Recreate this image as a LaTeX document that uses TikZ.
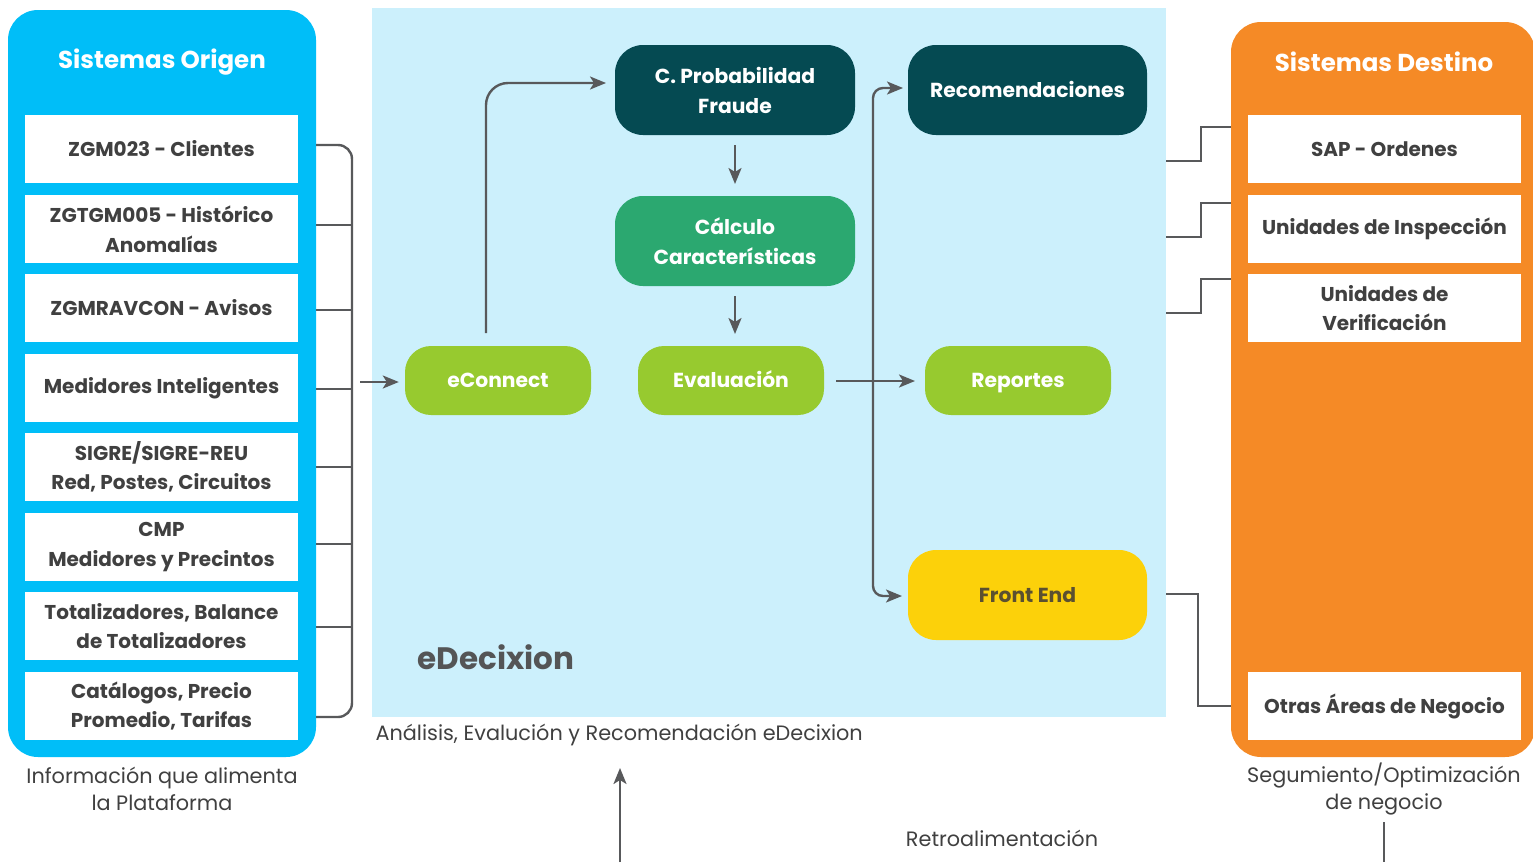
\documentclass[tikz,border=0pt]{standalone}
\usepackage{fontspec}
\setmainfont{Poppins}
\usetikzlibrary{arrows.meta}
\definecolor{cyanP}{HTML}{00BEF8}
\definecolor{orangeP}{HTML}{F58A26}
\definecolor{skyP}{HTML}{CCF0FC}
\definecolor{tealP}{HTML}{054A52}
\definecolor{greenP}{HTML}{2BA870}
\definecolor{limeP}{HTML}{97CA2F}
\definecolor{yellowP}{HTML}{FCD10A}
\definecolor{lineP}{HTML}{58595B}
\definecolor{textP}{HTML}{404040}
\definecolor{ftxtP}{HTML}{5B5030}
\tikzset{
  panel/.style={rounded corners=30pt, inner sep=0pt},
  wbox/.style={fill=white, minimum width=273pt, minimum height=68pt, inner sep=0pt,
     text=textP, font=\bfseries\fontsize{20}{29.5}\selectfont, align=center},
  title/.style={text=white, font=\bfseries\fontsize{24.5}{28}\selectfont},
  pnode/.style={rounded corners=28pt, minimum height=90pt, minimum width=240pt, inner sep=0pt,
     text=white, font=\bfseries\fontsize{20.3}{30}\selectfont, align=center},
  onel/.style={align=flush center, text height=14.5pt, text depth=0pt},
  snode/.style={rounded corners=26pt, minimum height=69pt, minimum width=186pt, inner sep=0pt,
     fill=limeP, text=white, font=\bfseries\fontsize{20.3}{30}\selectfont, onel},
  conn/.style={draw=lineP, line width=2.4pt},
  arr/.style={conn, -{Stealth[length=16pt,width=13pt,inset=4pt]}},
  captxt/.style={text=textP, font=\fontsize{20.8}{27}\selectfont, align=center},
}
\begin{document}
\begin{tikzpicture}[x=1pt,y=-1pt]
\useasboundingbox (0,0) rectangle (1533,862);
\fill[white] (0,0) rectangle (1533,862);

% center panel
\node[fill=skyP, minimum width=794pt, minimum height=709pt, inner sep=0pt] (centro) at (769,362.5) {};

% left panel
\node[panel, fill=cyanP, minimum width=308pt, minimum height=747pt] (origen) at (162,383.5) {};
\node[title] (torigen) at (162,62) {Sistemas Origen};
\node[wbox] (b1) at (161.5,149) {ZGM023 - Clientes};
\node[wbox] (b2) at (161.5,229) {ZGTGM005 - Histórico\\Anomalías};
\node[wbox] (b3) at (161.5,308) {ZGMRAVCON - Avisos};
\node[wbox] (b4) at (161.5,388) {Medidores Inteligentes};
\node[wbox] (b5) at (161.5,467) {SIGRE/SIGRE-REU\\Red, Postes, Circuitos};
\node[wbox] (b6) at (161.5,547) {CMP\\Medidores y Precintos};
\node[wbox] (b7) at (161.5,626) {Totalizadores, Balance\\de Totalizadores};
\node[wbox] (b8) at (161.5,706) {Catálogos, Precio\\Promedio, Tarifas};

% right panel
\node[panel, fill=orangeP, minimum width=304pt, minimum height=735pt] (destino) at (1383,389.5) {};
\node[title] (tdestino) at (1384,62) {Sistemas Destino};
\node[wbox] (d1) at (1384.5,149) {SAP - Ordenes};
\node[wbox] (d2) at (1384.5,229) {Unidades de Inspección};
\node[wbox] (d3) at (1384.5,308) {Unidades de\\Verificación};
\node[wbox] (d4) at (1384.5,706) {Otras Áreas de Negocio};

% center nodes
\node[pnode, fill=tealP] (prob) at (735,90) {C. Probabilidad\\Fraude};
\node[pnode, fill=greenP] (calc) at (735,241) {Cálculo\\Características};
\node[pnode, onel, fill=tealP, minimum width=239pt] (recom) at (1027.5,90) {Recomendaciones};
\node[pnode, onel, fill=yellowP, text=ftxtP, minimum width=239pt] (front) at (1027.5,595) {Front End};
\node[snode] (econ) at (498,380.5) {eConnect};
\node[snode] (eval) at (731,380.5) {Evaluación};
\node[snode] (rep) at (1018,380.5) {Reportes};

\node[anchor=west, text=lineP!95!black, font=\bfseries\fontsize{31}{34}\selectfont] (edx) at (414,657) {eDecixion};
\node[captxt, anchor=west] (canal) at (372,735) {Análisis, Evalución y Recomendación eDecixion};
\node[captxt] (cinfo) at (162,789) {Información que alimenta\\la Plataforma};
\node[captxt] (cseg) at (1384,789) {Segumiento/Optimización\\de negocio};
\node[captxt] (cretro) at (1002,838) {Retroalimentación};

% left bracket
\draw[conn, rounded corners=14pt] (origen.east |- 0,145) -- (352,145) -- (352,717) -- (origen.east |- 0,717);
\foreach \yy in {225,310,389,467,544,627}
  \draw[conn] (origen.east |- 0,\yy) -- (352,\yy);
\draw[arr, shorten >=6pt] (360,382) -- (econ.west |- 0,382);

% center arrows
\draw[arr, rounded corners=22pt] (486,333) -- (486,83) -- (606,83);
\draw[arr] (735,145) -- (735,184);
\draw[arr] (735,296) -- (735,334);
\draw[arr] (836,381) -- (915,381);
\draw[arr, rounded corners=10pt] (873,381) -- (873,88) -- (903,88);
\draw[arr, rounded corners=10pt] (873,381) -- (873,596) -- (902,596);

% right connectors
\draw[conn] (centro.east |- 0,161) -- (1201,161) -- (1201,127) -- (destino.west |- 0,127);
\draw[conn] (centro.east |- 0,237) -- (1201,237) -- (1201,203) -- (destino.west |- 0,203);
\draw[conn] (centro.east |- 0,313) -- (1201,313) -- (1201,279) -- (destino.west |- 0,279);
\draw[conn] (centro.east |- 0,594) -- (1198,594) -- (1198,706) -- (destino.west |- 0,706);

% bottom
\coordinate (fb) at (620,862);
\draw[arr] (fb) -- (620,768);
\coordinate (sb) at (1384,862);
\draw[conn] (1384,822) -- (sb);
\end{tikzpicture}
\end{document}
